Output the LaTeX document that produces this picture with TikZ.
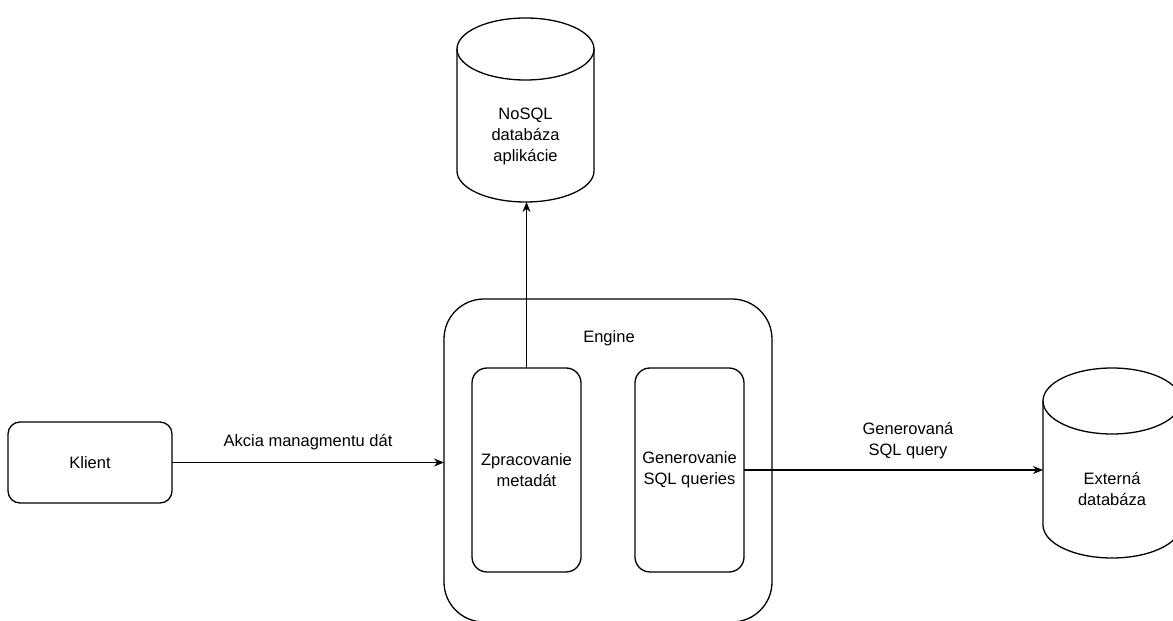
\documentclass[tikz,border=0pt]{standalone}
\usepackage{fontspec}
\setmainfont{Liberation Sans}
\usetikzlibrary{arrows.meta}
\begin{document}
\begin{tikzpicture}[x=1pt,y=1pt,
  every node/.style={font=\fontsize{16.5}{21}\selectfont, inner sep=0pt, outer sep=0pt},
  box/.style={draw, line width=1.3pt, rounded corners=#1},
  box/.default=14pt,
  hidden/.style={draw=none},
  link/.style={line width=1.3pt, -{Stealth[length=10pt,width=8pt]}},
  cyl/.style={line width=1.3pt}]
\useasboundingbox (0,0) rectangle (1173,621);

% client and the engine with its two parts
\node[box=12pt, minimum width=164pt, minimum height=81pt] (klient) at (90,158.5) {Klient};
\node[box=40pt, minimum width=328pt, minimum height=323pt] (engine) at (608,160.5) {};
\node (enginelabel) at (609,283) {Engine};
\node[box=15pt, minimum width=109pt, minimum height=204pt, align=center] (zpr) at (526.5,151) {Zpracovanie\\metadát};
\node[box=15pt, minimum width=109pt, minimum height=204pt, align=center] (gen) at (689.5,151) {Generovanie\\SQL queries};

% NoSQL application database (cylinder)
\node[hidden, minimum width=137pt, minimum height=184pt] (nosql) at (525.5,511) {};
\draw[cyl] (457,572) -- (457,450) arc[start angle=180, end angle=360, x radius=68.5pt, y radius=31pt] -- (594,572);
\draw[cyl] (525.5,572) ellipse [x radius=68.5pt, y radius=31pt];
\node[align=center] (nosqltext) at (525.5,485) {NoSQL\\databáza\\aplikácie};

% external database (cylinder)
\node[hidden, minimum width=138pt, minimum height=190pt] (ext) at (1112,158) {};
\draw[cyl] (1043,220) -- (1043,96) arc[start angle=180, end angle=360, x radius=69pt, y radius=33pt] -- (1181,220);
\draw[cyl] (1112,220) ellipse [x radius=69pt, y radius=33pt];
\node[align=center] (exttext) at (1112,132) {Externá\\databáza};

% connectors
\draw[link] (klient.east) -- (klient.east -| engine.west);
\node (akcia) at (308,179) {Akcia managmentu dát};
\draw[link] (zpr.north) -- (zpr.north |- nosql.south);
\draw[link] (gen.east) -- (gen.east -| ext.west);
\node[align=center] (gensql) at (908,180) {Generovaná\\SQL query};
\end{tikzpicture}
\end{document}
